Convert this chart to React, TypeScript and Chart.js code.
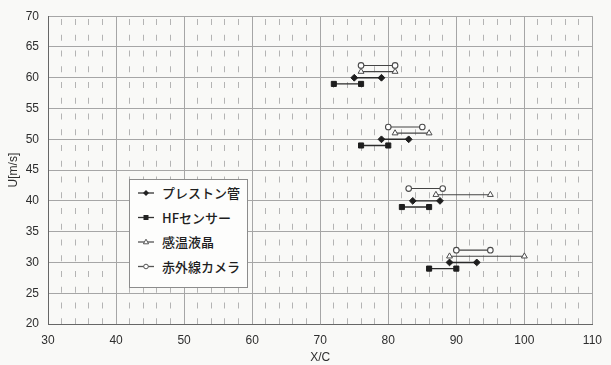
import React, { useEffect, useRef } from 'react';
import { Chart, registerables } from 'chart.js';

Chart.register(...registerables);

// Velocity levels and transition start / end positions (X/C) for each method
const prestonU = [60, 50, 40, 30];
const prestonStart = [75, 79, 83.6, 89];
const prestonEnd = [79, 83, 87.6, 93];

const hfU = [59, 49, 39, 29];
const hfStart = [72, 76, 82, 86];
const hfEnd = [76, 80, 86, 90];

const lcU = [61, 51, 41, 31];
const lcStart = [76, 81, 87, 89];
const lcEnd = [81, 86, 95, 100];

const irU = [62, 52, 42, 32];
const irStart = [76, 80, 83, 90];
const irEnd = [81, 85, 88, 95];

const seriesNames = ['プレストン管', 'HFセンサー', '感温液晶', '赤外線カメラ'];

const xMin = 30;
const xMax = 110;
const xMajorStep = 10;
const xMinorStep = 2;
const yMin = 20;
const yMax = 70;
const yStep = 5;

type Pt = { x: number; y: number | null };

// Each level becomes a start-end segment; a null point breaks the line between levels
function segments(u: number[], start: number[], end: number[]): Pt[] {
  const out: Pt[] = [];
  u.forEach((v, i) => {
    out.push({ x: start[i], y: v });
    out.push({ x: end[i], y: v });
    if (i < u.length - 1) out.push({ x: end[i], y: null });
  });
  return out;
}

const tickFont = { family: '"Liberation Sans", Arial, sans-serif', size: 12 };
const tickColor = '#2e2e2e';

function Legend() {
  const rows = [14, 38.5, 63, 87.5];
  const mx = 17;
  return (
    <div
      style={{
        position: 'absolute',
        left: 129,
        top: 179,
        width: 119,
        height: 109,
        border: '1px solid #8c8c8c',
        background: '#fdfdfc',
        boxSizing: 'border-box',
      }}
    >
      <svg width={119} height={109} style={{ position: 'absolute', left: -1, top: -1 }}>
        {rows.map((ry, i) => (
          <line key={'l' + i} x1={9} x2={25} y1={ry} y2={ry} stroke={i < 2 ? '#333' : '#555'} strokeWidth={1.3} />
        ))}
        <polygon points={`${mx},${rows[0] - 3} ${mx + 3},${rows[0]} ${mx},${rows[0] + 3} ${mx - 3},${rows[0]}`} fill="#222" />
        <rect x={mx - 2.5} y={rows[1] - 2.5} width={5} height={5} fill="#222" />
        <polygon
          points={`${mx},${rows[2] - 2.8} ${mx + 2.6},${rows[2] + 1.8} ${mx - 2.6},${rows[2] + 1.8}`}
          fill="#fff"
          stroke="#555"
          strokeWidth={1}
        />
        <circle cx={mx} cy={rows[3]} r={2.3} fill="#fff" stroke="#555" strokeWidth={1} />
      </svg>
      {seriesNames.map((name, i) => (
        <div
          key={name}
          style={{
            position: 'absolute',
            left: 32,
            top: rows[i] - 1 - 8,
            fontFamily: '"Noto Sans CJK JP", sans-serif',
            fontSize: 13,
            fontWeight: 500,
            lineHeight: '16px',
            color: '#1e1e1e',
            whiteSpace: 'nowrap',
          }}
        >
          {name}
        </div>
      ))}
    </div>
  );
}

export default function App() {
  const canvasRef = useRef<HTMLCanvasElement | null>(null);

  useEffect(() => {
    const canvas = canvasRef.current;
    if (!canvas) return;

    const chart = new Chart(canvas, {
      type: 'scatter',
      data: {
        datasets: [
          {
            label: seriesNames[0],
            data: segments(prestonU, prestonStart, prestonEnd),
            showLine: true,
            spanGaps: false,
            borderColor: '#2a2a2a',
            borderWidth: 1.4,
            pointStyle: 'rectRot',
            pointRadius: 3.4,
            pointBackgroundColor: '#1e1e1e',
            pointBorderColor: '#1e1e1e',
            pointBorderWidth: 1,
          },
          {
            label: seriesNames[1],
            data: segments(hfU, hfStart, hfEnd),
            showLine: true,
            spanGaps: false,
            borderColor: '#2a2a2a',
            borderWidth: 1.4,
            pointStyle: 'rect',
            pointRadius: 3.6,
            pointBackgroundColor: '#1e1e1e',
            pointBorderColor: '#1e1e1e',
            pointBorderWidth: 1,
          },
          {
            label: seriesNames[2],
            data: segments(lcU, lcStart, lcEnd),
            showLine: true,
            spanGaps: false,
            borderColor: '#444',
            borderWidth: 1.1,
            pointStyle: 'triangle',
            pointRadius: 3.4,
            pointBackgroundColor: '#ffffff',
            pointBorderColor: '#4a4a4a',
            pointBorderWidth: 1,
          },
          {
            label: seriesNames[3],
            data: segments(irU, irStart, irEnd),
            showLine: true,
            spanGaps: false,
            borderColor: '#444',
            borderWidth: 1.1,
            pointStyle: 'circle',
            pointRadius: 2.8,
            pointBackgroundColor: '#ffffff',
            pointBorderColor: '#4a4a4a',
            pointBorderWidth: 1.1,
          },
        ],
      },
      options: {
        animation: false,
        responsive: false,
        devicePixelRatio: 1,
        layout: { padding: { top: 8, right: 9, left: 0, bottom: 0 } },
        plugins: {
          legend: { display: false },
          tooltip: { enabled: false },
        },
        scales: {
          x: {
            type: 'linear',
            position: 'bottom',
            min: xMin,
            max: xMax,
            ticks: {
              stepSize: xMajorStep,
              padding: 9,
              font: tickFont,
              color: tickColor,
              maxRotation: 0,
              autoSkip: false,
            },
            grid: { color: '#a6a6a6', lineWidth: 1, drawTicks: false },
            border: { color: '#666', width: 1 },
            title: {
              display: true,
              text: 'X/C',
              font: tickFont,
              color: tickColor,
              padding: { top: 3, bottom: 0 },
            },
            afterFit: (s: any) => {
              s.height = 41;
            },
          },
          xMinor: {
            type: 'linear',
            position: 'top',
            min: xMin,
            max: xMax,
            ticks: { display: false, stepSize: xMinorStep },
            grid: {
              drawTicks: false,
              lineWidth: 1,
              color: (ctx: any) =>
                ctx.tick && ctx.tick.value % xMajorStep === 0 ? 'rgba(0,0,0,0)' : '#b4b4b4',
            },
            border: { display: false, dash: [6, 9.75], dashOffset: -3 },
            afterFit: (s: any) => {
              s.height = 0;
            },
          },
          y: {
            type: 'linear',
            min: yMin,
            max: yMax,
            ticks: {
              stepSize: yStep,
              padding: 9,
              font: tickFont,
              color: tickColor,
            },
            grid: { color: '#a6a6a6', lineWidth: 1, drawTicks: false },
            border: { color: '#666', width: 1 },
            title: {
              display: true,
              text: 'U[m/s]',
              font: tickFont,
              color: tickColor,
              padding: { top: 6, bottom: 0 },
            },
            afterFit: (s: any) => {
              s.width = 48;
            },
          },
        },
      },
    });

    return () => {
      chart.destroy();
    };
  }, []);

  return (
    <div
      style={{
        position: 'absolute',
        left: 0,
        top: 0,
        width: 611,
        height: 365,
        background: '#f9f9f7',
        overflow: 'hidden',
      }}
    >
      <canvas ref={canvasRef} width={611} height={365} style={{ display: 'block' }} />
      <Legend />
    </div>
  );
}
